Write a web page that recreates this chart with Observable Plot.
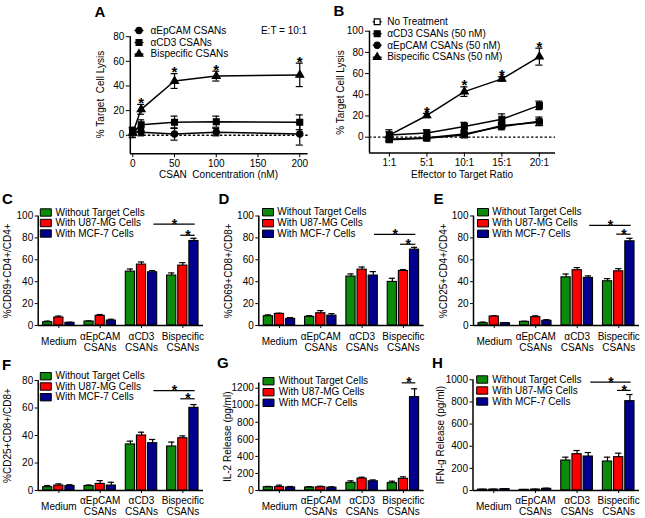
<!DOCTYPE html>
<html><head><meta charset="utf-8">
<script src="https://cdn.jsdelivr.net/npm/d3@7"></script>
<script src="https://cdn.jsdelivr.net/npm/@observablehq/plot@0.6"></script>
<style>
html,body{margin:0;padding:0;background:#fff;}
#page{position:relative;width:645px;height:518px;overflow:hidden;background:#fff;}
#page > div{position:absolute;left:0;top:0;}
</style></head><body><div id="page"></div>
<script>
// ---------------- DATA ----------------
// Panel A: % target cell lysis vs CSAN concentration (E:T = 10:1)
const concA = [0, 10, 50, 100, 200];
const aEpcamMean = [3, 2.5, 1, 2.5, 1];
const aEpcamErr = [2, 3, 5, 3, 9];
const aCd3Mean = [2.5, 8.5, 10.5, 11, 10.5];
const aCd3Err = [4, 4, 5, 4.5, 6];
const aBiMean = [2, 21, 44, 48, 49];
const aBiErr = [4, 4, 6, 4, 9.5];
const aStarIdx = [1, 2, 3, 4];
const aLegend = ["αEpCAM CSANs", "αCD3 CSANs", "Bispecific CSANs"];

// Panel B: % target cell lysis vs effector:target ratio
const ratiosB = ["1:1", "5:1", "10:1", "15:1", "20:1"];
const bNoTreatMean = [-2.5, -1, 2, 11, 14];
const bNoTreatErr = [2, 2, 2, 3, 3];
const bCd3Mean = [2, 4, 10, 17, 30];
const bCd3Err = [3, 3, 4, 5, 4];
const bEpcamMean = [-2, -0.5, 3, 10, 15];
const bEpcamErr = [2, 2, 3, 3, 4];
const bBiMean = [2, 20.5, 43, 55, 76];
const bBiErr = [5, 2, 4.5, 2, 8];
const bStarIdx = [1, 2, 3, 4];
const bLegend = ["No Treatment", "αCD3 CSANs (50 nM)", "αEpCAM CSANs (50 nM)", "Bispecific CSANs (50 nM)"];

// Bar panels C–H
const groupLabels = ["Medium", "αEpCAM\nCSANs", "αCD3\nCSANs", "Bispecific\nCSANs"];
const conditionLabels = ["Without Target Cells", "With U87-MG Cells", "With MCF-7 Cells"];
// rows: without / U87-MG / MCF-7 ; columns: groups
const cMeans = [[3, 3.6, 49.2, 45.6], [7.3, 8.8, 55.6, 54.7], [2.4, 4.5, 48.6, 77.2]];
const cErrs  = [[1, 0.6, 2.4, 2.4], [1.3, 1.2, 2.4, 2.7], [0.6, 1.2, 1.5, 2.4]];
const cSig   = [[2.3, 3.3, 92.5], [2.95, 3.3, 82.4]];
const dMeans = [[8.5, 7.9, 44.7, 39.8], [10.6, 11.2, 51, 49.8], [6, 9, 45.6, 69.3]];
const dErrs  = [[1.2, 1, 2.4, 3.3], [0.6, 2.4, 2.4, 1.2], [1.2, 1.8, 3.6, 2.1]];
const dSig   = [[2.3, 3.3, 83.3], [2.93, 3.3, 74.2]];
const eMeans = [[2.1, 3.3, 44, 40.4], [8.2, 7.6, 50.5, 49.5], [2.1, 4.3, 43.5, 76.9]];
const eErrs  = [[1, 0.6, 3, 2.4], [0.6, 1.2, 2.4, 2.4], [0.6, 1, 1.8, 2.7]];
const eSig   = [[2.3, 3.3, 91.5], [2.95, 3.3, 83.4]];
const fMeans = [[2.4, 3.2, 33.5, 32], [3.6, 4.8, 40, 38], [3.2, 3.6, 34.4, 60.1]];
const fErrs  = [[1.2, 0.8, 2.4, 3.2], [1.2, 2.4, 2.4, 1.7], [1, 2.4, 2.7, 2.4]];
const fSig   = [[2.3, 3.3, 72.7], [2.95, 3.3, 66.7]];
const gMeans = [[38, 35, 90, 86], [40, 38, 140, 137], [35, 33, 108, 1095]];
const gErrs  = [[10, 10, 23, 23], [22, 12, 16, 23], [12, 10, 16, 98]];
const gSig   = [[2.97, 3.3, 1263]];
const hMeans = [[8, 6, 271, 262], [8, 8, 328, 301], [12, 15, 307, 807]];
const hErrs  = [[3, 3, 30, 39], [4, 4, 33, 36], [5, 6, 36, 60]];
const hSig   = [[2.33, 3.3, 979], [2.97, 3.3, 904]];

// ---------------- STYLE / HELPERS ----------------
const FONT = '"Liberation Sans", Arial, Helvetica, sans-serif';
const condColors = ["#0b8a0b", "#ff0000", "#00008c"];
const page = document.getElementById("page");
function mount(svg) { const d = document.createElement("div"); d.appendChild(svg); page.appendChild(d); }
function frameOpts(g) {
  return {
    width: 645, height: 518,
    marginLeft: g.left, marginRight: 645 - g.right, marginTop: g.top, marginBottom: 518 - g.bottom,
    style: {background: "transparent", fontFamily: FONT, fontSize: "10px", color: "black", overflow: "visible"}
  };
}
function at(g, px, py) { return {frameAnchor: "top-left", dx: px - g.left, dy: py - g.top}; }
const symRect = {draw(c) { c.moveTo(-5.5, -3.7); c.lineTo(5.5, -3.7); c.lineTo(5.5, 3.7); c.lineTo(-5.5, 3.7); c.closePath(); }};
const symDash = {draw(c) { c.moveTo(-4.5, 0); c.lineTo(4.5, 0); }};
const intFmt = d3.format("d");
function letterMark(g, s, px, py) {
  return Plot.text([s], {...at(g, px, py), textAnchor: "start", lineAnchor: "top", fontSize: 15, fontWeight: "bold"});
}
function yTitle(g, s, cx, cy) {
  return Plot.text([s], {...at(g, cx, cy), rotate: -90, textAnchor: "middle", lineAnchor: "middle", fontSize: 10});
}
function fixedText(g, s, px, py, anchor = "start", size = 10) {
  return Plot.text([s], {...at(g, px, py), textAnchor: anchor, lineAnchor: "middle", fontSize: size});
}
const R = {circle: 3.1, square: 3.3, triangle: 2.9};

// ---------------- LINE PANELS ----------------
function rowsOf(xs, means, errs) { return means.map((m, k) => ({x: xs[k], y: m, e: errs[k]})); }
function seriesMarks(rows, cap, symbol, fill) {
  return [
    Plot.line(rows, {x: "x", y: "y", stroke: "black", strokeWidth: 1.5}),
    Plot.ruleX(rows, {x: "x", y1: d => d.y - d.e, y2: d => d.y + d.e, stroke: "black", strokeWidth: 1.2}),
    Plot.ruleY(rows, {y: d => d.y + d.e, x1: d => d.x - cap, x2: d => d.x + cap, stroke: "black", strokeWidth: 1.2}),
    Plot.ruleY(rows, {y: d => d.y - d.e, x1: d => d.x - cap, x2: d => d.x + cap, stroke: "black", strokeWidth: 1.2}),
    Plot.dot(rows, {x: "x", y: "y", symbol, r: R[symbol], fill, stroke: "black", strokeWidth: 1.2})
  ];
}
function legendLine(g, px, py, symbol, fill, label, tx) {
  return [
    Plot.dot([0], {...at(g, px, py), symbol: symDash, r: 4, fill: "none", stroke: "black", strokeWidth: 1.3}),
    Plot.dot([0], {...at(g, px, py), symbol, r: R[symbol], fill, stroke: "black", strokeWidth: 1.2}),
    fixedText(g, label, tx, py)
  ];
}
function stars(rows) {
  return Plot.text(rows, {x: "x", y: d => d.y + d.e, text: () => "*", lineAnchor: "bottom", dy: 3.5, fontSize: 15, fontWeight: "bold"});
}

// Panel A
{
  const g = {left: 129.8, right: 307.6, top: 36.2, bottom: 153.2};
  const ep = rowsOf(concA, aEpcamMean, aEpcamErr);
  const cd = rowsOf(concA, aCd3Mean, aCd3Err);
  const bi = rowsOf(concA, aBiMean, aBiErr);
  const cap = 4.2;
  mount(Plot.plot({
    ...frameOpts(g),
    x: {domain: [-3, 210], ticks: [0, 50, 100, 150, 200], tickSize: 4, tickPadding: 2, label: null},
    y: {domain: [-15, 80], ticks: [0, 20, 40, 60, 80], tickSize: 4, tickPadding: 2, label: null},
    marks: [
      Plot.ruleY([0], {stroke: "black", strokeWidth: 1.3, strokeDasharray: "2.5,2"}),
      ...seriesMarks(ep, cap, "circle", "black"),
      ...seriesMarks(cd, cap, "square", "black"),
      ...seriesMarks(bi, cap, "triangle", "black"),
      stars(aStarIdx.map(k => bi[k])),
      Plot.ruleX([-3], {stroke: "black", strokeWidth: 1.5}),
      Plot.ruleY([-15], {stroke: "black", strokeWidth: 1.5}),
      ...legendLine(g, 138.5, 30, "circle", "black", aLegend[0], 150),
      ...legendLine(g, 138.5, 42, "square", "black", aLegend[1], 150),
      ...legendLine(g, 138.5, 53.5, "triangle", "black", aLegend[2], 150),
      fixedText(g, "E:T = 10:1", 306.7, 30, "end"),
      yTitle(g, "% Target  Cell Lysis", 100, 94),
      fixedText(g, "CSAN  Concentration (nM)", 218, 174.5, "middle"),
      letterMark(g, "A", 94, 6)
    ]
  }));
}

// Panel B
{
  const g = {left: 369, right: 555, top: 30.7, bottom: 152.6};
  const idx = ratiosB.map((_, k) => k);
  const nt = rowsOf(idx, bNoTreatMean, bNoTreatErr);
  const cd = rowsOf(idx, bCd3Mean, bCd3Err);
  const ep = rowsOf(idx, bEpcamMean, bEpcamErr);
  const bi = rowsOf(idx, bBiMean, bBiErr);
  const cap = 0.095;
  mount(Plot.plot({
    ...frameOpts(g),
    x: {domain: [-0.53, 4.43], ticks: idx, tickFormat: k => ratiosB[k], tickSize: 4, tickPadding: 2, label: null},
    y: {domain: [-15, 100], ticks: [0, 20, 40, 60, 80, 100], tickSize: 4, tickPadding: 2, label: null},
    marks: [
      Plot.ruleY([0], {stroke: "black", strokeWidth: 1.3, strokeDasharray: "2.5,2"}),
      ...seriesMarks(nt, cap, "square", "white"),
      ...seriesMarks(ep, cap, "circle", "black"),
      ...seriesMarks(cd, cap, "square", "black"),
      ...seriesMarks(bi, cap, "triangle", "black"),
      stars(bStarIdx.map(k => bi[k])),
      Plot.ruleX([-0.53], {stroke: "black", strokeWidth: 1.5}),
      Plot.ruleY([-15], {stroke: "black", strokeWidth: 1.5}),
      ...legendLine(g, 376.7, 21.3, "square", "white", bLegend[0], 386.7),
      ...legendLine(g, 376.7, 33.2, "square", "black", bLegend[1], 386.7),
      ...legendLine(g, 376.7, 44.8, "circle", "black", bLegend[2], 386.7),
      ...legendLine(g, 376.7, 56.7, "triangle", "black", bLegend[3], 386.7),
      yTitle(g, "% Target Cell Lysis", 340.5, 92),
      fixedText(g, "Effector to Target Ratio", 461.5, 174.5, "middle"),
      letterMark(g, "B", 333, 5)
    ]
  }));
}

// ---------------- BAR PANELS ----------------
const STEP = 0.269, HW = 0.111, CAP = 0.075;
function barPanel(p) {
  const g = p.g;
  const marks = [];
  p.means.forEach((arr, j) => {
    const rows = arr.map((v, i) => ({c: i + (j - 1) * STEP, v, e: p.errs[j][i]}));
    marks.push(
      Plot.ruleX(rows, {x: "c", y1: "v", y2: d => d.v + d.e, stroke: "black", strokeWidth: 1.2}),
      Plot.ruleY(rows, {y: d => d.v + d.e, x1: d => d.c - CAP, x2: d => d.c + CAP, stroke: "black", strokeWidth: 1.2}),
      Plot.rect(rows, {x1: d => d.c - HW, x2: d => d.c + HW, y1: 0, y2: "v", fill: condColors[j], stroke: "black", strokeWidth: 1.1})
    );
  });
  marks.push(
    Plot.ruleY(p.sig, {y: d => d[2], x1: d => d[0], x2: d => d[1], stroke: "black", strokeWidth: 1.2}),
    Plot.text(p.sig, {x: d => (d[0] + d[1]) / 2, y: d => d[2], text: () => "*", lineAnchor: "bottom", dy: 4.5, fontSize: 14, fontWeight: "bold"}),
    Plot.ruleX([-0.5], {stroke: "black", strokeWidth: 1.5}),
    Plot.ruleY([0], {stroke: "black", strokeWidth: 1.5}),
    Plot.text(groupLabels, {x: (d, i) => i, frameAnchor: "bottom", dy: p.catDy, lineAnchor: "middle", lineHeight: 1.1, fontSize: 10}),
    yTitle(g, p.ylabel, p.ylabelX, (g.top + g.bottom) / 2),
    letterMark(g, p.letter, p.letterXY[0], p.letterXY[1])
  );
  conditionLabels.forEach((lab, j) => {
    marks.push(
      Plot.dot([0], {...at(g, p.swX, p.legY[j]), symbol: symRect, r: 4, fill: condColors[j], stroke: "black", strokeWidth: 1}),
      fixedText(g, lab, p.txX, p.legY[j])
    );
  });
  mount(Plot.plot({
    ...frameOpts(g),
    x: {domain: [-0.5, 3.5], ticks: [0, 1, 2, 3], tickFormat: () => "", tickSize: 3, label: null},
    y: {domain: p.yDomain, ticks: p.yTicks, tickFormat: intFmt, tickSize: 3, tickPadding: 2, label: null},
    marks
  }));
}

barPanel({g: {left: 37.7, right: 203, top: 215.5, bottom: 325}, yDomain: [0, 100], yTicks: [0, 20, 40, 60, 80, 100],
  means: cMeans, errs: cErrs, sig: cSig, ylabel: "%CD69+CD4+/CD4+", ylabelX: 7, letter: "C", letterXY: [1.5, 193],
  swX: 45.3, txX: 55, legY: [212, 222.5, 233], catDy: 16});
barPanel({g: {left: 258.3, right: 423.6, top: 215.5, bottom: 325}, yDomain: [0, 100], yTicks: [0, 20, 40, 60, 80, 100],
  means: dMeans, errs: dErrs, sig: dSig, ylabel: "%CD69+CD8+/CD8+", ylabelX: 228.5, letter: "D", letterXY: [218, 193],
  swX: 267.5, txX: 276.7, legY: [211.7, 222.7, 233.3], catDy: 16});
barPanel({g: {left: 473, right: 639, top: 215.5, bottom: 325}, yDomain: [0, 100], yTicks: [0, 20, 40, 60, 80, 100],
  means: eMeans, errs: eErrs, sig: eSig, ylabel: "%CD25+CD4+/CD4+", ylabelX: 443.5, letter: "E", letterXY: [433, 193],
  swX: 482.5, txX: 491.7, legY: [211.7, 222.7, 233.3], catDy: 16});
barPanel({g: {left: 37.7, right: 203, top: 380, bottom: 490}, yDomain: [0, 80], yTicks: [0, 20, 40, 60, 80],
  means: fMeans, errs: fErrs, sig: fSig, ylabel: "%CD25+CD8+/CD8+", ylabelX: 7, letter: "F", letterXY: [1.5, 359],
  swX: 45.3, txX: 55, legY: [375.7, 386, 396.7], catDy: 15.5});
barPanel({g: {left: 258.3, right: 423.6, top: 382.6, bottom: 490}, yDomain: [0, 1260], yTicks: [0, 200, 400, 600, 800, 1000, 1200],
  means: gMeans, errs: gErrs, sig: gSig, ylabel: "IL-2 Release (pg/ml)", ylabelX: 227, letter: "G", letterXY: [216.5, 357],
  swX: 268, txX: 278.3, legY: [380.7, 391.7, 402.3], catDy: 15.5});
barPanel({g: {left: 472.5, right: 639, top: 379.3, bottom: 490}, yDomain: [0, 1000], yTicks: [0, 200, 400, 600, 800, 1000],
  means: hMeans, errs: hErrs, sig: hSig, ylabel: "IFN-g Release (pg/ml)", ylabelX: 440.5, letter: "H", letterXY: [431.5, 357],
  swX: 481.7, txX: 491.7, legY: [379, 390, 401], catDy: 15.5});
</script>
</body></html>
